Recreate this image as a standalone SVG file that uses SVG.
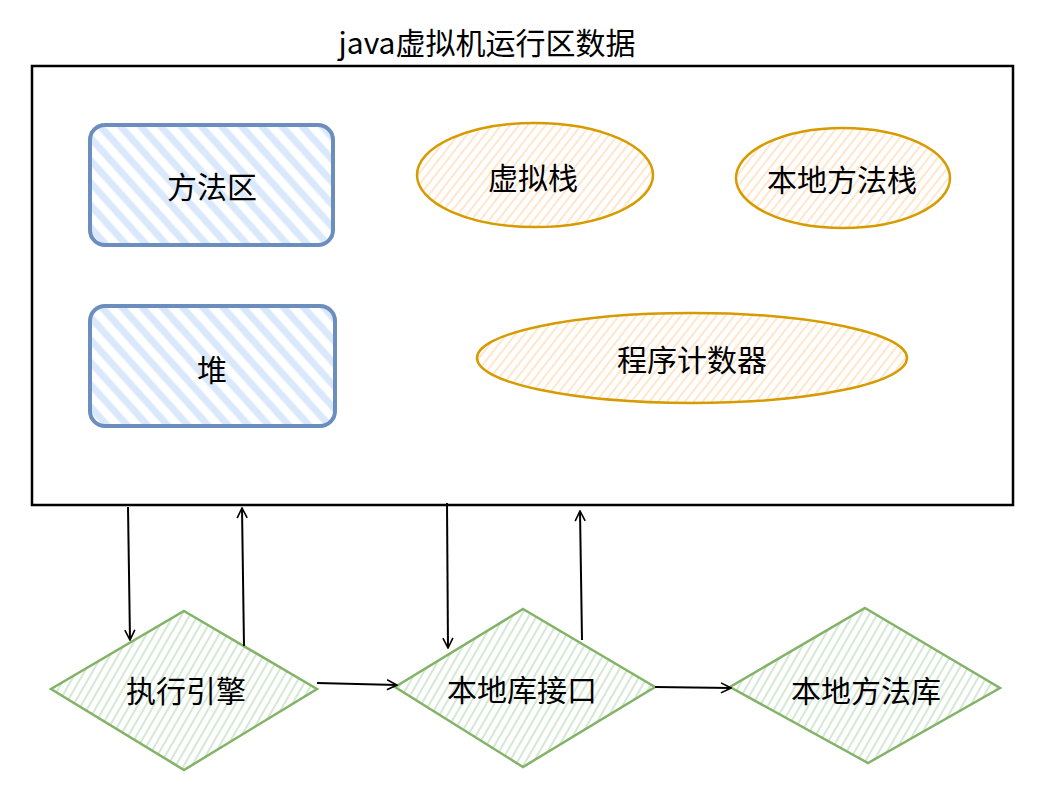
<svg xmlns="http://www.w3.org/2000/svg" width="1054" height="798" viewBox="0 0 1054 798">
<style>
text{font-family:"Noto Sans CJK SC","Noto Sans",sans-serif;fill:#000;text-anchor:middle;dominant-baseline:central;font-size:30px}
.blue{fill:url(#hb);stroke:#6c8ebf;stroke-width:4}
.orange{fill:url(#ho);stroke:#d79b00;stroke-width:2.5}
.green{fill:url(#hg);stroke:#82b366;stroke-width:2.5}
.conn{fill:none;stroke:#000;stroke-width:2}
</style>
<defs>
<pattern id="hb" width="15" height="15" patternUnits="userSpaceOnUse" patternTransform="rotate(-42)">
<line x1="5" y1="0" x2="5" y2="15" stroke="#dae8fc" stroke-width="7"/>
</pattern>
<pattern id="ho" width="7" height="7" patternUnits="userSpaceOnUse" patternTransform="rotate(38)">
<line x1="3" y1="0" x2="3" y2="7" stroke="#ffe6cc" stroke-width="2"/>
</pattern>
<pattern id="hg" width="7" height="7" patternUnits="userSpaceOnUse" patternTransform="rotate(30)">
<line x1="3" y1="0" x2="3" y2="7" stroke="#d5e8d4" stroke-width="2"/>
</pattern>
<marker id="arr" viewBox="0 0 12 12" refX="11" refY="6" markerWidth="12" markerHeight="12" markerUnits="userSpaceOnUse" orient="auto">
<path d="M1,1 L11,6 L1,11" fill="none" stroke="#000" stroke-width="1.6"/>
</marker>
</defs>
<rect width="1054" height="798" fill="#fff"/>
<text x="487" y="41">java虚拟机运行区数据</text>
<g id="container">
<rect x="32" y="66" width="981" height="439" fill="none" stroke="#000" stroke-width="2.5"/>
</g>
<g id="n-fangfaqu">
<rect class="blue" x="90" y="125" width="243" height="120" rx="15"/>
<text x="212" y="185">方法区</text>
</g>
<g id="n-dui">
<rect class="blue" x="90" y="306" width="245" height="120" rx="15"/>
<text x="212" y="368">堆</text>
</g>
<g id="n-xunizhan">
<ellipse class="orange" cx="535" cy="175" rx="118" ry="52"/>
<text x="533" y="176">虚拟栈</text>
</g>
<g id="n-bendifangfazhan">
<ellipse class="orange" cx="843" cy="178" rx="107" ry="50"/>
<text x="842" y="178">本地方法栈</text>
</g>
<g id="n-chengxujishuqi">
<ellipse class="orange" cx="692" cy="358" rx="215" ry="45"/>
<text x="692" y="358">程序计数器</text>
</g>
<g id="n-zhixingyinqing">
<polygon class="green" points="184,611 317,689 184,770 51,689"/>
<text x="186" y="689">执行引擎</text>
</g>
<g id="n-bendikujiekou">
<polygon class="green" points="523,609 655,687 523,767 395,687"/>
<text x="522" y="688">本地库接口</text>
</g>
<g id="n-bendifangfaku">
<polygon class="green" points="865,608 1000,688 868,763 730,687"/>
<text x="866" y="689">本地方法库</text>
</g>
<g id="connectors">
<path class="conn" d="M128,507 L130,640" marker-end="url(#arr)"/>
<path class="conn" d="M244,646 L242,508" marker-end="url(#arr)"/>
<path class="conn" d="M447,503 L448,648" marker-end="url(#arr)"/>
<path class="conn" d="M582,640 L580,511" marker-end="url(#arr)"/>
<path class="conn" d="M317,683 L397,685" marker-end="url(#arr)"/>
<path class="conn" d="M655,687 L731,688" marker-end="url(#arr)"/>
</g>
</svg>
